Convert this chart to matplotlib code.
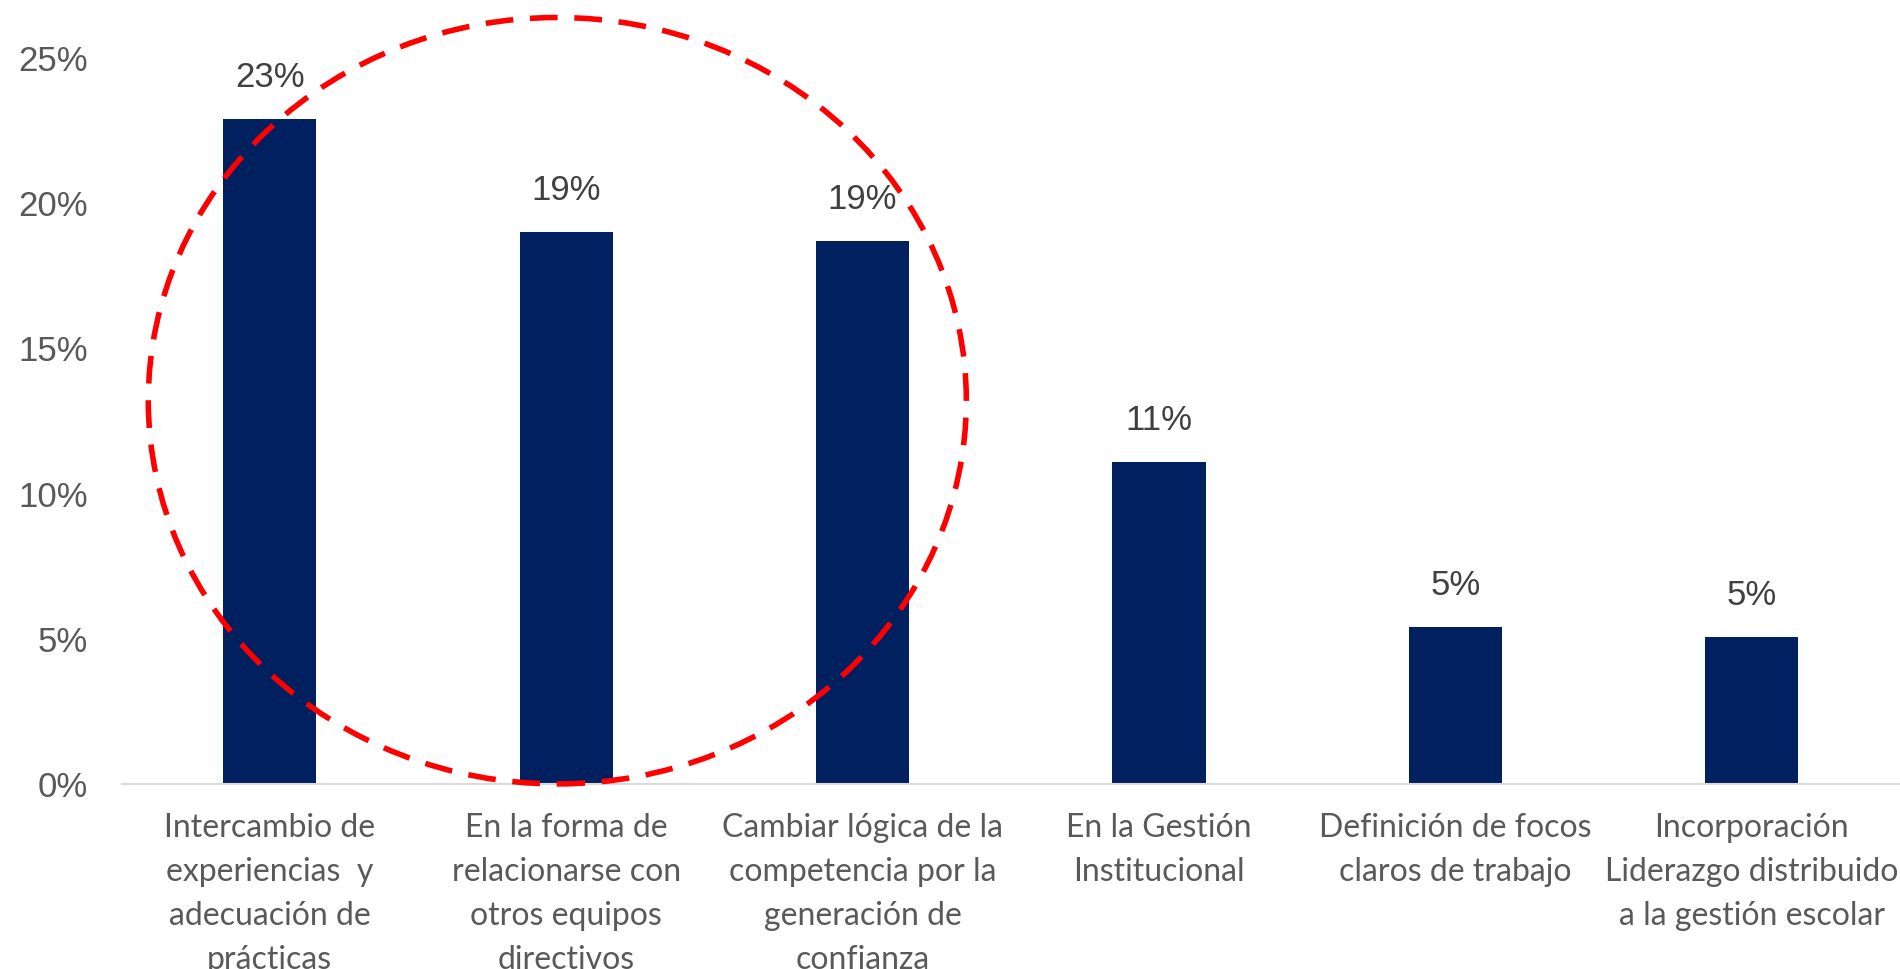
import numpy as np
import matplotlib
matplotlib.use("Agg")
import matplotlib.pyplot as plt
from matplotlib.patches import Ellipse
from matplotlib.ticker import PercentFormatter

# data
categorias = [
    "Intercambio de\nexperiencias  y\nadecuación de\nprácticas",
    "En la forma de\nrelacionarse con\notros equipos\ndirectivos",
    "Cambiar lógica de la\ncompetencia por la\ngeneración de\nconfianza",
    "En la Gestión\nInstitucional",
    "Definición de focos\nclaros de trabajo",
    "Incorporación\nLiderazgo distribuido\na la gestión escolar",
]
valores = [0.229, 0.190, 0.187, 0.111, 0.054, 0.0505]
etiquetas = ["23%", "19%", "19%", "11%", "5%", "5%"]
y_ticks = [0.0, 0.05, 0.10, 0.15, 0.20, 0.25]

fig = plt.figure(figsize=(19, 9.69), dpi=100)
ax = fig.add_axes([0.064, 0.191, 0.936, 0.749])

x = np.arange(len(categorias))
ax.bar(x, valores, width=0.314, color="#002060", zorder=2)

for xi, v, lab in zip(x, valores, etiquetas):
    ax.annotate(lab, (xi, v), xytext=(0, 30), textcoords="offset points",
                ha="center", va="center", fontsize=25,
                family="Liberation Sans", color="#404040")

# dashed circle around the first three bars
circ = Ellipse((0.97, 0.132), width=2.76, height=0.264, fill=False,
               edgecolor="#FF0000", linewidth=4.0, linestyle=(0, (5, 3)),
               clip_on=False, zorder=3)
ax.add_patch(circ)

ax.set_xlim(-0.5, 5.5)
ax.set_ylim(0, 0.25)
ax.set_yticks(y_ticks)
ax.yaxis.set_major_formatter(PercentFormatter(1.0, decimals=0))
for t in ax.get_yticklabels():
    t.set_family("Liberation Sans")
    t.set_fontsize(25)
    t.set_color("#595959")

ax.set_xticks(x)
ax.set_xticklabels(categorias, fontsize=23, family="Lato",
                   color="#595959", linespacing=1.58)
ax.tick_params(axis="x", length=0, pad=21)
ax.tick_params(axis="y", length=0, pad=24)

for s in ["top", "right", "left"]:
    ax.spines[s].set_visible(False)
ax.spines["bottom"].set_color("#D9D9D9")
ax.spines["bottom"].set_linewidth(1.5)

fig.savefig("out.png", dpi=100)
